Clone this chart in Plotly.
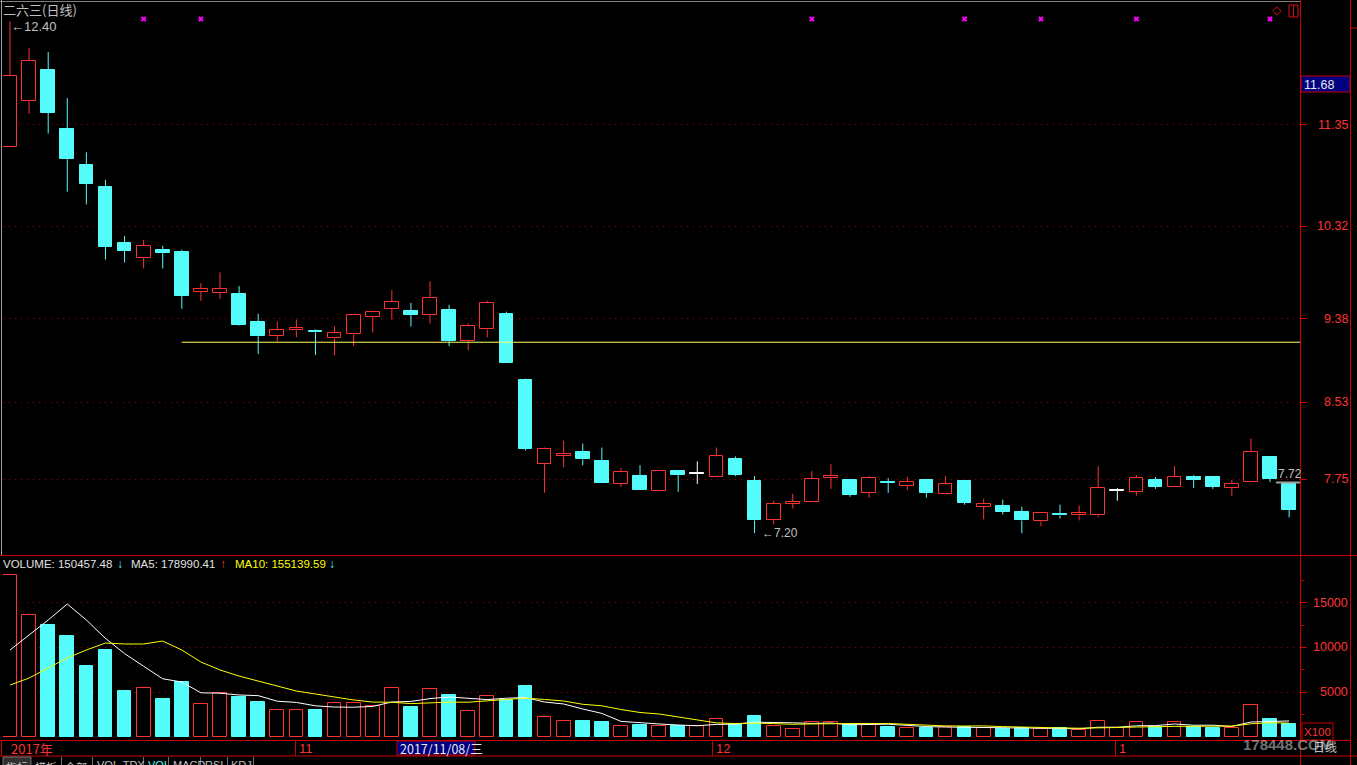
import plotly.graph_objects as go

# ---------------- data ----------------
opens  = [11.12, 11.59, 11.91, 11.31, 10.94, 10.72, 10.15, 10.00, 10.08, 10.06,
          9.65, 9.64, 9.63, 9.35, 9.20, 9.26, 9.25, 9.18, 9.22, 9.40,
          9.48, 9.46, 9.42, 9.47, 9.15, 9.27, 9.43, 8.76, 7.90, 7.98,
          8.02, 7.93, 7.70, 7.78, 7.63, 7.83, 7.80, 7.77, 7.95, 7.73,
          7.33, 7.50, 7.52, 7.76, 7.74, 7.61, 7.72, 7.68, 7.74, 7.60,
          7.73, 7.47, 7.48, 7.41, 7.32, 7.39, 7.38, 7.38, 7.63, 7.62,
          7.74, 7.67, 7.77, 7.77, 7.66, 7.72, 7.97, 7.70]
highs  = [12.40, 12.13, 12.09, 11.62, 11.07, 10.79, 10.22, 10.18, 10.12, 10.08,
          9.74, 9.85, 9.71, 9.43, 9.35, 9.37, 9.27, 9.30, 9.43, 9.46,
          9.67, 9.54, 9.76, 9.52, 9.33, 9.56, 9.45, 8.77, 8.07, 8.14,
          8.11, 8.07, 7.86, 7.89, 7.83, 7.83, 7.93, 8.07, 7.98, 7.78,
          7.53, 7.60, 7.83, 7.90, 7.75, 7.78, 7.76, 7.77, 7.75, 7.78,
          7.73, 7.55, 7.54, 7.47, 7.40, 7.49, 7.48, 7.88, 7.66, 7.79,
          7.77, 7.88, 7.79, 7.77, 7.74, 8.16, 7.98, 7.71]
lows   = [11.12, 11.46, 11.26, 10.67, 10.54, 9.98, 9.95, 9.89, 9.89, 9.48,
          9.56, 9.58, 9.31, 9.02, 9.15, 9.19, 9.01, 9.01, 9.10, 9.24,
          9.37, 9.30, 9.33, 9.10, 9.06, 9.19, 8.93, 8.04, 7.61, 7.87,
          7.89, 7.71, 7.67, 7.64, 7.63, 7.62, 7.70, 7.77, 7.78, 7.20,
          7.29, 7.45, 7.52, 7.65, 7.57, 7.56, 7.61, 7.64, 7.56, 7.60,
          7.49, 7.34, 7.39, 7.20, 7.27, 7.35, 7.33, 7.36, 7.53, 7.58,
          7.65, 7.67, 7.66, 7.65, 7.58, 7.72, 7.72, 7.36]
closes = [11.85, 12.00, 11.47, 11.00, 10.75, 10.11, 10.07, 10.12, 10.05, 9.61,
          9.68, 9.68, 9.32, 9.20, 9.26, 9.28, 9.24, 9.23, 9.42, 9.45,
          9.55, 9.42, 9.59, 9.15, 9.30, 9.54, 8.93, 8.06, 8.06, 8.00,
          7.95, 7.71, 7.82, 7.64, 7.83, 7.79, 7.80, 7.98, 7.79, 7.33,
          7.50, 7.52, 7.75, 7.78, 7.59, 7.76, 7.71, 7.72, 7.61, 7.70,
          7.51, 7.50, 7.42, 7.33, 7.40, 7.38, 7.40, 7.66, 7.63, 7.76,
          7.67, 7.77, 7.74, 7.67, 7.70, 8.02, 7.75, 7.44]
# volume in units of 100 (axis shows X100)
volumes = [18080, 13616, 12500, 11270, 7920, 9710, 5130, 5470, 4240, 6140,
           3680, 4910, 4460, 3900, 3010, 3010, 3010, 3790, 3790, 3460,
           5470, 3350, 5360, 4690, 2900, 4580, 4130, 5690, 2230, 1790,
           1790, 1670, 1230, 1340, 1230, 1230, 1230, 2010, 1450, 2340,
           1230, 890, 1670, 1670, 1340, 1340, 1120, 1000, 1000, 1120,
           1120, 1000, 890, 1000, 890, 1000, 780, 1790, 1000, 1670,
           1120, 1670, 1120, 1000, 1000, 3570, 2010, 1505]
ma5 = [9710, 11380, 13060, 14840, 13060, 11003, 9306, 7900, 6494, 6138,
       4932, 4888, 4686, 4618, 3992, 3858, 3478, 3344, 3322, 3412,
       3904, 3972, 4286, 4466, 4354, 4176, 4332, 4398, 3906, 3684,
       3126, 2634, 1742, 1564, 1452, 1340, 1252, 1408, 1430, 1652,
       1652, 1584, 1516, 1560, 1360, 1382, 1428, 1294, 1160, 1116,
       1072, 1048, 1026, 1026, 980, 956, 912, 1092, 1092, 1248,
       1272, 1450, 1316, 1316, 1182, 1672, 1740, 1790]
ma10 = [5800, 6580, 7700, 8820, 9710, 10490, 10380, 10380, 10710, 9710,
        8370, 7480, 6800, 6250, 5690, 5130, 4800, 4460, 4130, 3900,
        3880, 3725, 3815, 3894, 3883, 4040, 4152, 4342, 4186, 4019,
        3651, 3483, 3070, 2735, 2568, 2233, 1943, 1575, 1497, 1552,
        1496, 1418, 1462, 1495, 1506, 1517, 1506, 1405, 1360, 1238,
        1227, 1238, 1160, 1093, 1048, 1014, 980, 1059, 1059, 1114,
        1114, 1181, 1204, 1204, 1215, 1472, 1595, 1551]
signal_idx = [7, 10, 42, 50, 54, 59, 66]
price_ticks = [7.75, 8.53, 9.38, 10.32, 11.35]
price_tick_labels = ["7.75", "8.53", "9.38", "10.32", "11.35"]
vol_ticks = [5000, 10000, 15000]
vol_tick_labels = ["5000", "10000", "15000"]
support_level = 9.14
support_start = 9
high_label = "12.40"
low_label = "7.20"
cursor_price = "11.68"
last_label = "7.72"
title_text = "二六三(日线)"
header_volume = "VOLUME: 150457.48"
header_ma5 = "MA5: 178990.41"
header_ma10 = "MA10: 155139.59"
date_labels = ["2017年", "11", "12", "1"]
cursor_date = "2017/11/08/三"
tabs = ["指标", "模板", "全部", "VOL-TDX", "VOL", "MACD", "RSI", "KDJ"]

# ---------------- style ----------------
W, H = 1357, 765
RED = "#ff3232"
CYAN = "#54fcfc"
WHITE = "#ffffff"
AXIS = "#c80000"
GRID = "#a00000"
GREY = "#c0c0c0"
FONT = "Liberation Sans, Arial, sans-serif"
CJK = "Noto Sans CJK SC, sans-serif"
BODY_W = 0.72


def px(x):
    return x / W


def py(y):
    return 1 - y / H


n = len(opens)
xs = list(range(n))
x_range = [-0.367, 67.57]
price_range = [6.978, 12.587]
vol_range = [-335, 20201]

fig = go.Figure()

# ---------------- candles ----------------
groups = {"up": ([], RED, "black"), "down": ([], CYAN, CYAN), "flat": ([], WHITE, WHITE)}
for i in xs:
    if closes[i] > opens[i]:
        groups["up"][0].append(i)
    elif closes[i] < opens[i]:
        groups["down"][0].append(i)
    else:
        groups["flat"][0].append(i)

for key, (idx, edge, fill) in groups.items():
    if not idx:
        continue
    wx, wy = [], []
    for i in idx:
        lo_b = min(opens[i], closes[i])
        hi_b = max(opens[i], closes[i])
        wx += [i, i, None, i, i, None]
        wy += [lows[i], lo_b, None, hi_b, highs[i], None]
    fig.add_trace(go.Scatter(x=wx, y=wy, mode="lines", line=dict(color=edge, width=1),
                             hoverinfo="skip", xaxis="x", yaxis="y"))
    fig.add_trace(go.Bar(
        x=idx,
        base=[min(opens[i], closes[i]) for i in idx],
        y=[max(abs(closes[i] - opens[i]), 0.012) for i in idx],
        width=BODY_W,
        marker=dict(color=fill, line=dict(color=edge, width=1)),
        xaxis="x", yaxis="y", hoverinfo="skip"))

# support line
fig.add_trace(go.Scatter(x=[support_start, x_range[1]], y=[support_level, support_level],
                         mode="lines", line=dict(color="#ffff60", width=1),
                         xaxis="x", yaxis="y", hoverinfo="skip"))

# signal markers at the top of the price panel
sig_y = price_range[1] - 16 / 98.4
fig.add_trace(go.Scatter(x=signal_idx, y=[sig_y] * len(signal_idx), mode="markers",
                         marker=dict(symbol="x", size=5, color="#ff00ff"),
                         xaxis="x", yaxis="y", hoverinfo="skip"))

# ---------------- volume ----------------
up_v = [i for i in xs if closes[i] >= opens[i]]
dn_v = [i for i in xs if closes[i] < opens[i]]
fig.add_trace(go.Bar(x=up_v, y=[volumes[i] for i in up_v], width=BODY_W,
                     marker=dict(color="black", line=dict(color=RED, width=1)),
                     xaxis="x2", yaxis="y2", hoverinfo="skip"))
fig.add_trace(go.Bar(x=dn_v, y=[volumes[i] for i in dn_v], width=BODY_W,
                     marker=dict(color=CYAN, line=dict(color=CYAN, width=1)),
                     xaxis="x2", yaxis="y2", hoverinfo="skip"))
fig.add_trace(go.Scatter(x=xs, y=ma5, mode="lines", line=dict(color=WHITE, width=1),
                         xaxis="x2", yaxis="y2", hoverinfo="skip"))
fig.add_trace(go.Scatter(x=xs, y=ma10, mode="lines", line=dict(color="#ffff00", width=1),
                         xaxis="x2", yaxis="y2", hoverinfo="skip"))

# ---------------- axes ----------------
common_x = dict(domain=[px(3), px(1300)], range=x_range, showgrid=False, zeroline=False,
                showticklabels=False, ticks="", showline=False, fixedrange=True)
fig.update_layout(
    width=W, height=H, margin=dict(l=0, r=0, t=0, b=0),
    paper_bgcolor="black", plot_bgcolor="black", showlegend=False,
    barmode="overlay", bargap=0,
    xaxis=dict(anchor="y", **common_x),
    xaxis2=dict(anchor="y2", matches="x", **common_x),
    yaxis=dict(domain=[py(555), py(3)], range=price_range, side="right", anchor="x",
               tickvals=price_ticks, showticklabels=False, ticks="outside", ticklen=6,
               tickcolor=AXIS, tickwidth=1, showgrid=True, gridcolor=GRID, gridwidth=1,
               griddash="1px,5px", zeroline=False, showline=False),
    yaxis2=dict(domain=[py(740), py(556)], range=vol_range, side="right", anchor="x2",
                tickvals=vol_ticks, showticklabels=False, ticks="outside", ticklen=6,
                tickcolor=AXIS, tickwidth=1, showgrid=True, gridcolor=GRID, gridwidth=1,
                griddash="1px,5px", zeroline=False, showline=False,
                minor=dict(tickvals=[2500, 7500, 12500, 17500], ticks="outside", ticklen=3,
                           tickcolor=AXIS, showgrid=False)),
)

# ---------------- frame lines ----------------
shapes = []


def line(x0, y0, x1, y1, color=AXIS, width=1):
    shapes.append(dict(type="line", xref="paper", yref="paper", x0=px(x0), y0=py(y0),
                       x1=px(x1), y1=py(y1), line=dict(color=color, width=width)))


def rect(x0, y0, x1, y1, fill, color=AXIS):
    shapes.append(dict(type="rect", xref="paper", yref="paper", x0=px(x0), y0=py(y0),
                       x1=px(x1), y1=py(y1), fillcolor=fill, line=dict(color=color, width=1)))


line(0, 1.5, 1300, 1.5, "#808080")
line(1.5, 0, 1.5, 555, "#a0a0a0")
line(1300.5, 0, 1300.5, 756)
line(1350.5, 0, 1350.5, 765)
line(0, 555.5, 1357, 555.5)
line(0, 740.5, 1350, 740.5)
line(0, 756, 1357, 756)
line(1.5, 740, 1.5, 756)
line(295.5, 740, 295.5, 756)
line(712.5, 740, 712.5, 756)
line(1115.5, 740, 1115.5, 756)
line(1300.5, 740, 1300.5, 765)
line(1350, 28, 1357, 28)
line(1350, 555.5, 1357, 555.5)
# cursor price box and X100 box
rect(1301, 76, 1350, 92, "#000080")
rect(1302, 723, 1333, 740, "rgba(0,0,0,0)")
# cursor date box
rect(397, 741, 475, 755, "#000080")
# last price marker line
line(1276, 482.5, 1300, 482.5, "#a0a0a0", 2)
# icons top-right
rect(1289, 5, 1298, 17, "rgba(0,0,0,0)", "#d01010")
line(1293.5, 5, 1293.5, 17, "#d01010")
# tab row
rect(3, 757, 31, 770, "#303030", "#707070")
for xsep in [61, 92, 143, 168, 200, 227, 253]:
    line(xsep + 0.5, 757, xsep + 0.5, 765, "#707070")
fig.update_layout(shapes=shapes)

# ---------------- texts ----------------
ann = []


def text(x, y, s, color=GREY, size=12, family=FONT, xanchor="left", yanchor="middle",
         xref="paper", yref="paper"):
    ann.append(dict(x=x, y=y, xref=xref, yref=yref, text=s, showarrow=False,
                    xanchor=xanchor, yanchor=yanchor, align=xanchor if xanchor != "center" else "center",
                    font=dict(color=color, size=size, family=family),
                    borderpad=0))


text(px(2), py(10), title_text, GREY, 13, CJK)
text(px(10), py(27), "←" + high_label, GREY, 13)
text(39, float(low_label), "←" + low_label, GREY, 12, xref="x", yref="y")
ann[-1]["xshift"] = 6
for v, s in zip(price_ticks, price_tick_labels):
    text(px(1349), v, s, RED, 12.5, xanchor="right", yref="y")
for v, s in zip(vol_ticks, vol_tick_labels):
    text(px(1349), v, s, RED, 12.5, xanchor="right", yref="y2")
text(px(1303), py(84.5), cursor_price, "#e8e8e8", 12.5)
text(px(1303), py(732), "X100", RED, 11.5)
text(px(1277), py(474), last_label, GREY, 12)
text(px(1271), py(10), "◇", "#d01010", 12)

# volume header
text(px(2), py(563.5), header_volume, "#e0e0e0", 11.5)
text(px(116), py(563.5), "↓", CYAN, 12)
text(px(130), py(563.5), header_ma5, "#e0e0e0", 11.5)
text(px(219), py(563.5), "↑", RED, 12)
text(px(234), py(563.5), header_ma10, "#ffff00", 11.5)
text(px(328), py(563.5), "↓", CYAN, 12)

# date row
text(px(10), py(748), date_labels[0], RED, 13, CJK)
text(px(298), py(748), date_labels[1], RED, 13)
text(px(715), py(748), date_labels[2], RED, 13)
text(px(1118), py(748), date_labels[3], RED, 13)
text(px(399), py(748), cursor_date, "#e8e8e8", 12.5, CJK)
text(px(1312), py(746), "日线", GREY, 12, CJK)

# tabs (cut by the bottom edge)
tab_x = [5, 34, 64, 96, 147, 172, 204, 230]
for s, x in zip(tabs, tab_x):
    col = CYAN if s == "VOL" else GREY
    fam = CJK if ord(s[0]) > 255 else FONT
    text(px(x), py(758), s, col, 11, fam, yanchor="top")

# watermark
text(px(1242), py(744), "178448.COM", "rgba(215,215,215,0.55)", 15,
     "Liberation Sans, Arial, sans-serif")
ann[-1]["font"]["weight"] = "bold"

fig.update_layout(annotations=ann)
fig.write_html("out.html", config={"displayModeBar": False},
               post_script="document.body.style.margin='0px';document.body.style.overflow='hidden';")
